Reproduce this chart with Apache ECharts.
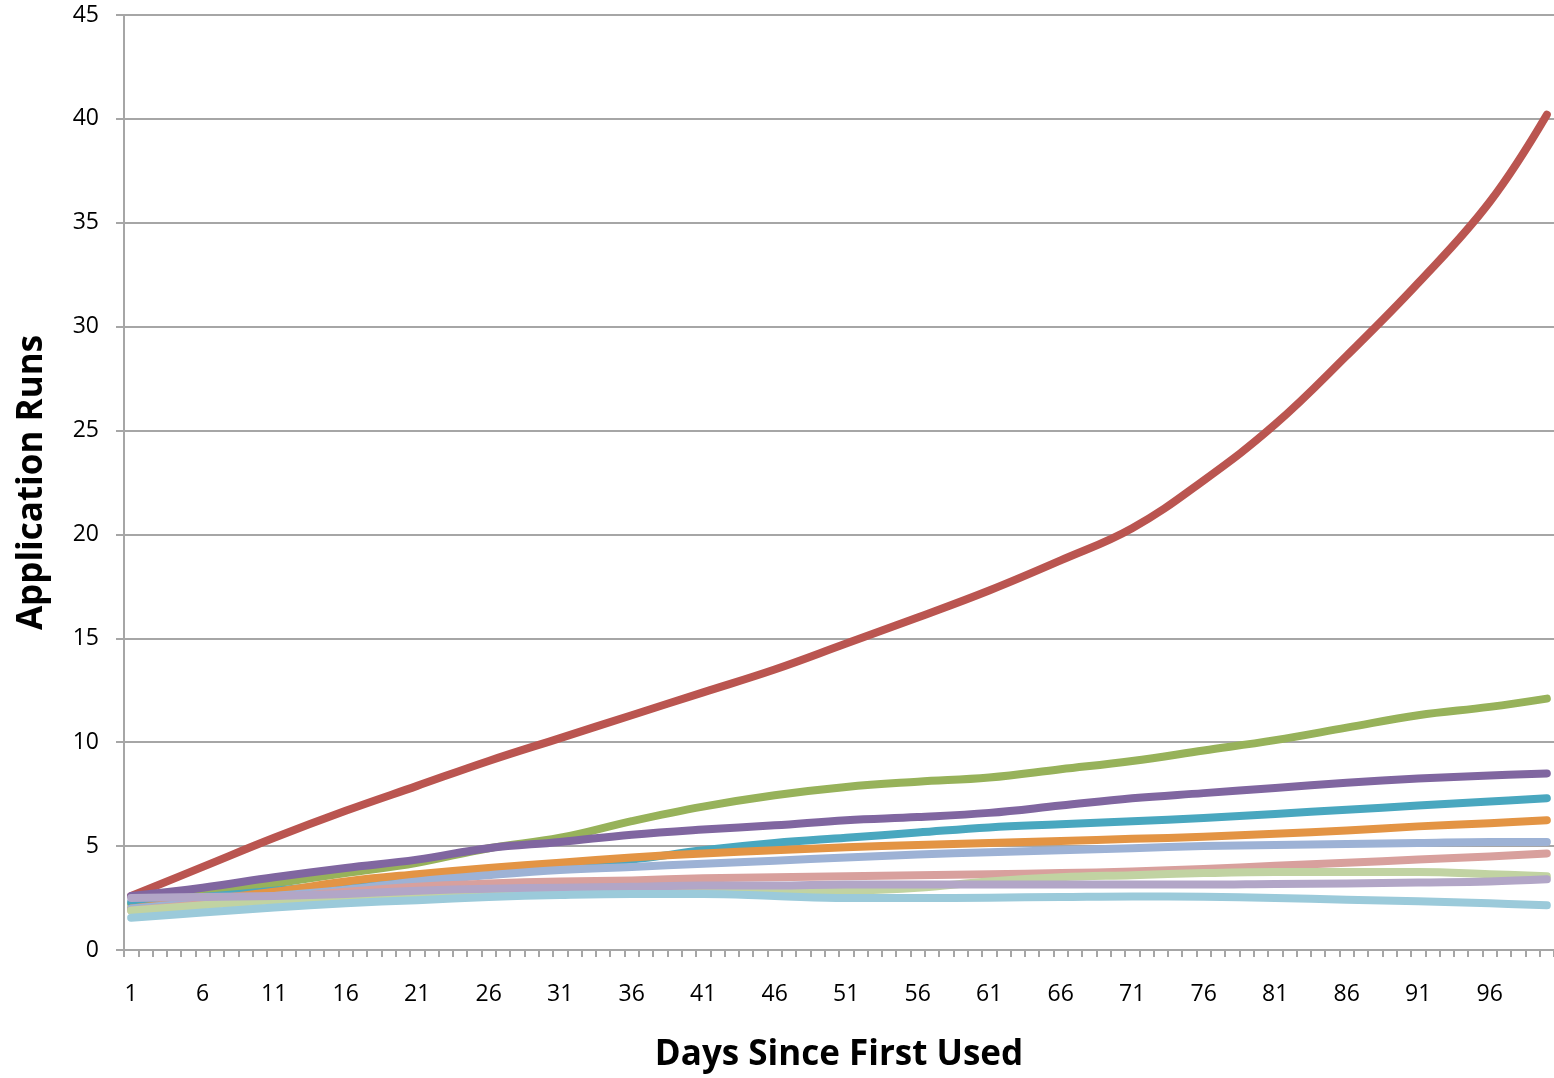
<!DOCTYPE html>
<html>
<head>
<meta charset="utf-8">
<script src="https://cdn.jsdelivr.net/npm/echarts@6/dist/echarts.min.js"></script>
<style>html,body{margin:0;padding:0;background:#fff}#c{width:1554px;height:1078px}</style>
</head>
<body>
<div id="c"></div>
<script>
// Category axis: days 1..100
var categories = [];
for (var d = 1; d <= 100; d++) categories.push(String(d));

var sampleDays = [1, 6, 11, 16, 21, 26, 31, 36, 41, 46, 51, 56, 61, 66, 71, 76, 81, 86, 91, 96, 100];

var seriesNames = ['S1', 'S2', 'S3', 'S4', 'S5', 'S6', 'S7', 'S8', 'S9', 'S10'];
var red        = [2.6, 4.0, 5.4, 6.7, 7.9, 9.1, 10.2, 11.3, 12.4, 13.5, 14.75, 16.0, 17.3, 18.75, 20.3, 22.6, 25.3, 28.6, 32.1, 36.0, 40.2];
var green      = [2.2, 2.7, 3.2, 3.7, 4.2, 4.9, 5.4, 6.2, 6.9, 7.45, 7.85, 8.1, 8.3, 8.7, 9.1, 9.6, 10.1, 10.7, 11.3, 11.7, 12.1];
var purple     = [2.6, 3.0, 3.5, 3.95, 4.35, 4.9, 5.2, 5.55, 5.8, 6.0, 6.25, 6.4, 6.6, 6.95, 7.3, 7.55, 7.8, 8.05, 8.25, 8.4, 8.5];
var teal       = [2.3, 2.55, 2.85, 3.2, 3.55, 3.85, 4.1, 4.35, 4.8, 5.15, 5.4, 5.65, 5.9, 6.05, 6.2, 6.35, 6.55, 6.75, 6.95, 7.15, 7.3];
var orange     = [2.0, 2.4, 2.8, 3.3, 3.65, 3.95, 4.2, 4.45, 4.65, 4.8, 4.95, 5.05, 5.15, 5.25, 5.35, 5.45, 5.6, 5.75, 5.95, 6.1, 6.25];
var lightBlue  = [2.0, 2.3, 2.6, 2.9, 3.3, 3.6, 3.85, 4.0, 4.15, 4.3, 4.45, 4.6, 4.7, 4.8, 4.9, 5.0, 5.05, 5.1, 5.15, 5.2, 5.2];
var pink       = [1.9, 2.2, 2.5, 2.8, 3.05, 3.2, 3.3, 3.35, 3.45, 3.5, 3.55, 3.6, 3.65, 3.7, 3.78, 3.9, 4.05, 4.2, 4.35, 4.5, 4.65];
var lightGreen = [1.9, 2.15, 2.4, 2.55, 2.7, 2.75, 2.8, 2.8, 2.8, 2.8, 2.85, 3.0, 3.3, 3.5, 3.6, 3.7, 3.75, 3.75, 3.75, 3.65, 3.55];
var lightPurple= [2.5, 2.55, 2.6, 2.7, 2.85, 2.95, 3.0, 3.05, 3.1, 3.1, 3.15, 3.15, 3.15, 3.15, 3.15, 3.15, 3.18, 3.2, 3.25, 3.3, 3.4];
var lightTeal  = [1.55, 1.8, 2.05, 2.25, 2.4, 2.55, 2.65, 2.7, 2.7, 2.6, 2.5, 2.5, 2.52, 2.55, 2.58, 2.56, 2.5, 2.42, 2.35, 2.25, 2.15];

var yTicks = [0, 5, 10, 15, 20, 25, 30, 35, 40, 45];

var allValues = [red, green, purple, teal, orange, lightBlue, pink, lightGreen, lightPurple, lightTeal];
var colors = ['#BA5550', '#97B25A', '#8066A0', '#49A7BF', '#E39444', '#9DB2D5', '#D8A09D', '#C1D3A2', '#B2A6C7', '#9BCADA'];

var gridColor = '#A6A6A6';
var font = 'Open Sans';

var series = allValues.map(function (vals, i) {
  return {
    name: seriesNames[i],
    type: 'line',
    smooth: 0.4,
    symbol: 'none',
    data: sampleDays.map(function (day, j) { return [String(day), vals[j]]; }),
    lineStyle: { color: colors[i], width: 8, cap: 'round', join: 'round' },
    itemStyle: { color: colors[i] },
    z: 2 + i
  };
});

var chart = echarts.init(document.getElementById('c'), null, { renderer: 'canvas' });
chart.setOption({
  animation: false,
  backgroundColor: '#fff',
  grid: { left: 124, right: 0, top: 15, bottom: 128, containLabel: false },
  xAxis: {
    type: 'category',
    data: categories,
    boundaryGap: true,
    name: 'Days Since First Used',
    nameLocation: 'middle',
    nameGap: 88,
    nameTextStyle: { fontFamily: font, fontWeight: 'bold', fontSize: 35, color: '#000' },
    axisLine: { show: true, lineStyle: { color: gridColor, width: 2 } },
    axisTick: { show: true, interval: 0, length: 7, lineStyle: { color: gridColor, width: 2 } },
    axisLabel: { interval: 4, margin: 33, fontFamily: font, fontSize: 23, color: '#000' },
    splitLine: { show: false }
  },
  yAxis: {
    type: 'value',
    min: yTicks[0],
    max: yTicks[yTicks.length - 1],
    interval: 5,
    name: 'Application Runs',
    nameLocation: 'middle',
    nameGap: 74,
    nameTextStyle: { fontFamily: font, fontWeight: 'bold', fontSize: 35, color: '#000' },
    axisLine: { show: true, lineStyle: { color: gridColor, width: 2 } },
    axisTick: { show: true, length: 8, lineStyle: { color: gridColor, width: 2 } },
    axisLabel: { margin: 25, fontFamily: font, fontSize: 23, color: '#000' },
    splitLine: { show: true, lineStyle: { color: gridColor, width: 2 } }
  },
  series: series
});
</script>
</body>
</html>
